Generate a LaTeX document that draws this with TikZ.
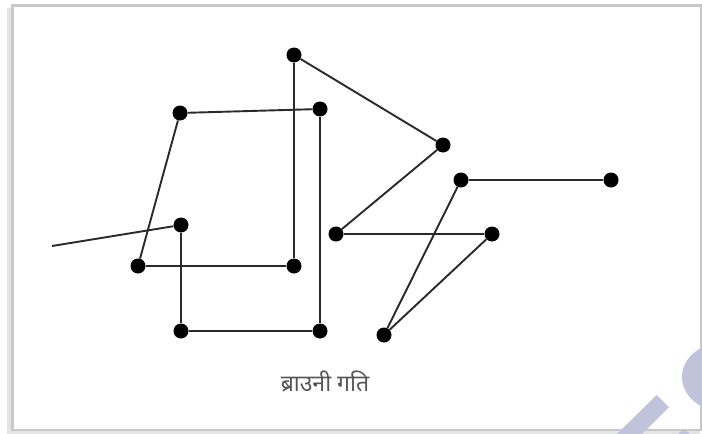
\documentclass[tikz,border=0pt]{standalone}
\usepackage{fontspec}
\newfontfamily\devfont[Script=Devanagari]{Noto Sans}
\definecolor{lineclr}{HTML}{2A2A2A}
\definecolor{frameclr}{HTML}{C8C8C8}
\definecolor{shadowclr}{HTML}{E4E4E4}
\definecolor{wmclr}{HTML}{C0C3DA}
\definecolor{txtclr}{HTML}{555555}
\tikzset{
  dot/.style={circle, fill=black, inner sep=0pt, minimum size=15pt},
  walk/.style={draw=lineclr, line width=1.9pt},
  caption/.style={font=\devfont\fontsize{23}{27}\selectfont, text=txtclr}
}
\begin{document}
\begin{tikzpicture}[x=1pt,y=-1pt]
\useasboundingbox (0,0) rectangle (702,434);
% frame with soft shadow
\draw[shadowclr, line width=5pt] (9,8) -- (9,433) -- (700,433);
\draw[frameclr, line width=2.5pt, fill=white] (12.5,5.5) rectangle (701,430);
% dots
\node[dot] (E) at (181,225) {};
\node[dot] (D) at (181,331) {};
\node[dot] (C) at (320,331) {};
\node[dot] (B) at (320,109) {};
\node[dot] (A) at (180,113) {};
\node[dot] (F) at (138,266) {};
\node[dot] (G) at (294,266) {};
\node[dot] (P1) at (294,55) {};
\node[dot] (P2) at (443,145) {};
\node[dot] (P3) at (336,234) {};
\node[dot] (P4) at (492,234) {};
\node[dot] (P5) at (384,335) {};
\node[dot] (P6) at (461,180) {};
\node[dot] (P7) at (611,180) {};
\coordinate (S) at (52,246);
% path of the particle
\draw[walk] (S) -- (E);
\draw[walk] (E) -- (D);
\draw[walk] (D) -- (C);
\draw[walk] (C) -- (B);
\draw[walk] (B) -- (A);
\draw[walk] (A) -- (F);
\draw[walk] (F) -- (G);
\draw[walk] (G) -- (P1);
\draw[walk] (P1) -- (P2);
\draw[walk] (P2) -- (P3);
\draw[walk] (P3) -- (P4);
\draw[walk] (P4) -- (P5);
\draw[walk] (P5) -- (P6);
\draw[walk] (P6) -- (P7);
% caption
\node[caption] (cap) at (325,381) {ब्राउनी गति};
% watermark shapes
\fill[wmclr] (722,377) ellipse (40 and 34);
\fill[wmclr] (656.7,395) -- (669,407) -- (642,434) -- (617,434) -- cycle;
\fill[wmclr] (678,434) -- (684,429) -- (690,434) -- cycle;
\end{tikzpicture}
\end{document}
